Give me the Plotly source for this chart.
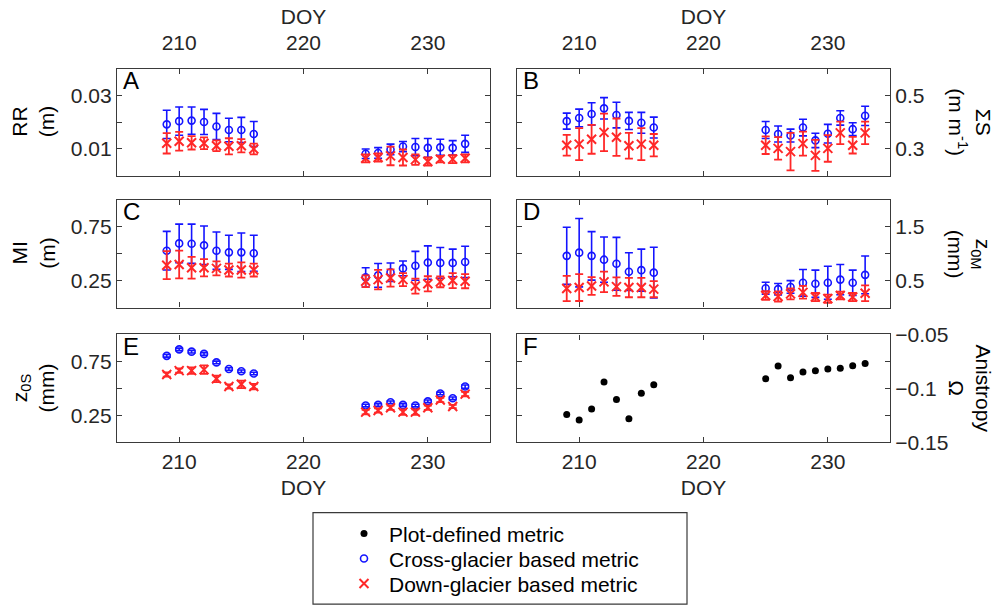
import plotly.graph_objects as go

W, H = 996, 616

doy = [209, 210, 211, 212, 213, 214, 215, 216, 225, 226, 227, 228, 229, 230, 231, 232, 233]

# Panel A: RR (m)
rr_cross = [0.0192, 0.0204, 0.0206, 0.0201, 0.0184, 0.0171, 0.0171, 0.0156,
            0.0082, 0.0085, 0.0098, 0.0109, 0.0107, 0.0104, 0.0106, 0.0104, 0.0119]
rr_cross_err = [0.0053, 0.0053, 0.0051, 0.0047, 0.0049, 0.0044, 0.0047, 0.0047,
                0.0018, 0.0020, 0.0020, 0.0019, 0.0032, 0.0035, 0.0030, 0.0027, 0.0032]
rr_down = [0.0121, 0.0129, 0.0123, 0.0121, 0.0112, 0.0110, 0.0112, 0.0100,
           0.0065, 0.0068, 0.0074, 0.0068, 0.0060, 0.0053, 0.0062, 0.0062, 0.0065]
rr_down_err = [0.0038, 0.0035, 0.0025, 0.0022, 0.0020, 0.0030, 0.0025, 0.0020,
               0.0015, 0.0015, 0.0035, 0.0030, 0.0020, 0.0015, 0.0012, 0.0015, 0.0015]

# Panel B: Sigma S (m m^-1)
ss_cross = [0.404, 0.416, 0.431, 0.452, 0.427, 0.405, 0.398, 0.380,
            0.371, 0.356, 0.350, 0.380, 0.332, 0.357, 0.416, 0.374, 0.424]
ss_cross_err = [0.030, 0.033, 0.042, 0.040, 0.048, 0.032, 0.039, 0.039,
                0.032, 0.030, 0.024, 0.031, 0.027, 0.035, 0.027, 0.024, 0.036]
ss_down = [0.314, 0.318, 0.336, 0.362, 0.344, 0.312, 0.318, 0.314,
           0.314, 0.302, 0.290, 0.320, 0.276, 0.302, 0.360, 0.314, 0.360]
ss_down_err = [0.039, 0.060, 0.054, 0.070, 0.070, 0.048, 0.060, 0.042,
               0.033, 0.042, 0.070, 0.045, 0.058, 0.050, 0.042, 0.031, 0.042]

# Panel C: MI (m)
mi_cross = [0.527, 0.595, 0.592, 0.577, 0.527, 0.512, 0.512, 0.503,
            0.280, 0.298, 0.327, 0.363, 0.387, 0.417, 0.414, 0.414, 0.423]
mi_cross_err = [0.179, 0.179, 0.182, 0.179, 0.173, 0.158, 0.179, 0.167,
                0.089, 0.110, 0.086, 0.068, 0.134, 0.155, 0.143, 0.128, 0.146]
mi_down = [0.393, 0.399, 0.369, 0.369, 0.363, 0.348, 0.348, 0.348,
           0.244, 0.259, 0.274, 0.259, 0.199, 0.220, 0.238, 0.250, 0.244]
mi_down_err = [0.130, 0.128, 0.100, 0.080, 0.065, 0.060, 0.070, 0.060,
               0.054, 0.090, 0.080, 0.060, 0.070, 0.070, 0.050, 0.070, 0.065]

# Panel D: z0M (mm)
zm_cross = [0.959, 1.018, 0.959, 0.888, 0.812, 0.665, 0.694, 0.647,
            0.359, 0.341, 0.382, 0.459, 0.441, 0.459, 0.518, 0.459, 0.606]
zm_cross_err = [0.530, 0.635, 0.450, 0.420, 0.490, 0.350, 0.390, 0.470,
                0.110, 0.106, 0.118, 0.247, 0.253, 0.306, 0.280, 0.235, 0.350]
zm_down = [0.353, 0.371, 0.400, 0.476, 0.388, 0.371, 0.371, 0.341,
           0.224, 0.206, 0.253, 0.282, 0.194, 0.165, 0.224, 0.194, 0.265]
zm_down_err = [0.235, 0.250, 0.165, 0.190, 0.170, 0.180, 0.180, 0.150,
               0.080, 0.094, 0.100, 0.118, 0.076, 0.076, 0.070, 0.076, 0.147]

# Panel E: z0S (mm)
zs_cross = [0.802, 0.862, 0.841, 0.820, 0.741, 0.680, 0.659, 0.638,
            0.341, 0.347, 0.371, 0.347, 0.341, 0.380, 0.453, 0.408, 0.517]
zs_cross_err = [0.012, 0.012, 0.012, 0.012, 0.012, 0.012, 0.012, 0.012,
                0.012, 0.012, 0.012, 0.012, 0.012, 0.012, 0.012, 0.012, 0.015]
zs_down = [0.629, 0.665, 0.665, 0.674, 0.589, 0.517, 0.538, 0.517,
           0.280, 0.295, 0.320, 0.280, 0.280, 0.320, 0.392, 0.332, 0.447]
zs_down_err = [0.020, 0.020, 0.030, 0.040, 0.030, 0.020, 0.035, 0.025,
               0.020, 0.020, 0.020, 0.025, 0.025, 0.020, 0.020, 0.015, 0.020]

# Panel F: Anisotropy Omega
omega = [-0.1243, -0.1293, -0.1192, -0.0941, -0.1104, -0.1281, -0.1044, -0.0967,
         -0.0911, -0.0793, -0.0902, -0.0849, -0.0837, -0.0820, -0.0814, -0.0790, -0.0769]

x_tick_vals = [210, 220, 230]
y_ranges = [[0, 0.04], [0.2, 0.6], [0, 1], [0, 2], [0, 1], [-0.15, -0.05]]
y_major = [[0.01, 0.03], [0.3, 0.5], [0.25, 0.75], [0.5, 1.5], [0.25, 0.75], [-0.15, -0.1, -0.05]]
y_minor_step = [0.01, 0.1, 0.25, 0.5, 0.25, 0.025]

BLUE = "rgb(20,20,255)"
RED = "rgb(255,40,40)"
FRAME = "#3a3a3a"
TXT = "#262626"
FONT = "Liberation Sans, Arial, sans-serif"
FS = 21

fig = go.Figure()

def px_x(p):
    return p / W

def px_y(p):
    return 1 - p / H

col_x = [(117, 490), (517, 890)]
row_y = [(59, 170), (195, 307), (335, 447)]

def add_pair(n, cross, cerr, down, derr, legend):
    fig.add_trace(go.Scatter(
        x=doy, y=cross, mode="markers", xaxis=f"x{n}", yaxis=f"y{n}",
        name="Cross-glacier based metric", showlegend=legend, legend="legend2",
        marker=dict(symbol="circle-open", size=7, color=BLUE, line=dict(width=1.6, color=BLUE)),
        error_y=dict(type="data", array=cerr, visible=True, color=BLUE, thickness=1.6, width=4),
    ))
    fig.add_trace(go.Scatter(
        x=doy, y=down, mode="markers", xaxis=f"x{n}", yaxis=f"y{n}",
        name="Down-glacier based metric", showlegend=legend, legend="legend3",
        marker=dict(symbol="x-thin-open", size=9, color=RED, line=dict(width=2, color=RED)),
        error_y=dict(type="data", array=derr, visible=True, color=RED, thickness=1.8, width=4),
    ))

add_pair(1, rr_cross, rr_cross_err, rr_down, rr_down_err, True)
add_pair(2, ss_cross, ss_cross_err, ss_down, ss_down_err, False)
add_pair(3, mi_cross, mi_cross_err, mi_down, mi_down_err, False)
add_pair(4, zm_cross, zm_cross_err, zm_down, zm_down_err, False)
add_pair(5, zs_cross, zs_cross_err, zs_down, zs_down_err, False)
fig.add_trace(go.Scatter(
    x=doy, y=omega, mode="markers", xaxis="x6", yaxis="y6",
    name="Plot-defined metric", showlegend=True, legend="legend",
    marker=dict(symbol="circle", size=7, color="black"),
))

layout = dict(
    width=W, height=H,
    margin=dict(l=0, r=0, t=0, b=0),
    paper_bgcolor="white", plot_bgcolor="white",
    font=dict(family=FONT, size=FS, color="#1a1a1a"),
    showlegend=True,
)

for i in range(6):
    n = i + 1
    col = i % 2
    row = i // 2
    x0, x1 = col_x[col]
    ytop, ybot = row_y[row]
    xa = dict(
        domain=[px_x(x0), px_x(x1)], anchor=f"y{n}", range=[205, 235],
        tickvals=x_tick_vals, ticks="inside", ticklen=5, tickwidth=1,
        tickcolor=FRAME, showline=True, linecolor=FRAME, linewidth=1.2,
        mirror="ticks", showgrid=False, zeroline=False,
        tickfont=dict(size=FS, color=TXT),
    )
    if row == 0:
        xa.update(side="top", ticklabelstandoff=9,
                  title=dict(text="DOY", standoff=0, font=dict(size=FS, color=TXT)))
    elif row == 2:
        xa.update(side="bottom",
                  title=dict(text="DOY", standoff=8, font=dict(size=FS, color=TXT)))
    else:
        xa.update(showticklabels=False)
    r0 = y_ranges[i][0]
    ya = dict(
        domain=[px_y(ybot), px_y(ytop)], anchor=f"x{n}", range=y_ranges[i],
        tickvals=y_major[i], ticks="inside", ticklen=5, tickwidth=1,
        tickcolor=FRAME, showline=True, linecolor=FRAME, linewidth=1.2,
        mirror="ticks", showgrid=False, zeroline=False,
        minor=dict(ticks="inside", ticklen=5, tickwidth=1, tickcolor=FRAME,
                   tick0=r0, dtick=y_minor_step[i], showgrid=False),
        side="left" if col == 0 else "right",
        tickfont=dict(size=FS, color=TXT),
    )
    layout[f"xaxis{'' if n == 1 else n}"] = xa
    layout[f"yaxis{'' if n == 1 else n}"] = ya

fig.update_layout(**layout)

letters = ["A", "B", "C", "D", "E", "F"]
for i, L in enumerate(letters):
    n = i + 1
    fig.add_annotation(
        text=L, xref=f"x{n} domain" if n > 1 else "x domain", yref=f"y{n} domain" if n > 1 else "y domain",
        x=0.01, y=1.035, xanchor="left", yanchor="top", showarrow=False,
        font=dict(size=24, color="black"),
    )

titles = [
    ("RR<br>(m)", 0, 0, -90),
    ("ΣS<br>(m m<sup>-1</sup>)", 1, 0, 90),
    ("MI<br>(m)", 0, 1, -90),
    ("z<sub>0M</sub><br>(mm)", 1, 1, 90),
    ("z<sub>0S</sub><br>(mm)", 0, 2, -90),
    ("Anistropy<br>Ω", 1, 2, 90),
]
for text, col, row, ang in titles:
    ytop, ybot = row_y[row]
    xc = 33 if col == 0 else 970
    fig.add_annotation(
        text=text, xref="paper", yref="paper", x=px_x(xc), y=px_y((ytop + ybot) / 2),
        xanchor="center", yanchor="middle", textangle=ang, showarrow=False,
        font=dict(size=FS, color="black"),
    )

leg_common = dict(xanchor="left", yanchor="middle", bgcolor="rgba(0,0,0,0)",
                  borderwidth=0, itemwidth=40, font=dict(size=FS, color="black"))
fig.update_layout(
    legend=dict(x=px_x(339), y=px_y(542), **leg_common),
    legend2=dict(x=px_x(339), y=px_y(568), **leg_common),
    legend3=dict(x=px_x(339), y=px_y(594), **leg_common),
)
fig.add_shape(type="rect", xref="paper", yref="paper",
              x0=px_x(313), x1=px_x(687), y0=px_y(615), y1=px_y(520),
              line=dict(color=FRAME, width=1.2), fillcolor="rgba(0,0,0,0)")

fig.write_html("out.html")
